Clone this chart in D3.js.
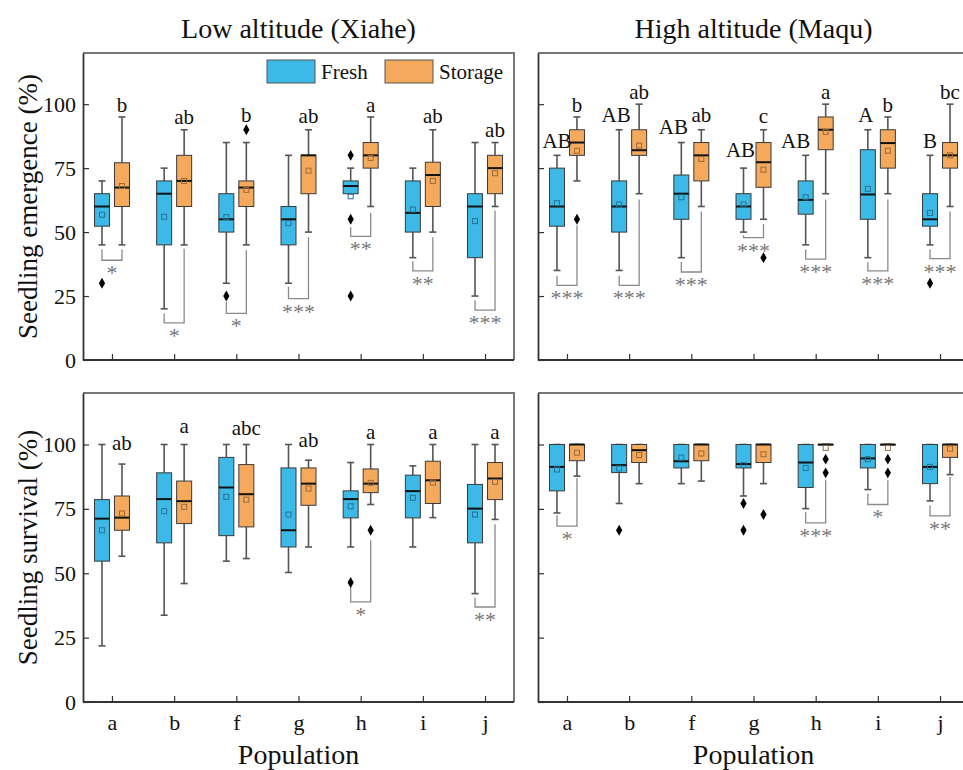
<!DOCTYPE html>
<html>
<head>
<meta charset="utf-8">
<script src="https://cdn.jsdelivr.net/npm/d3@7"></script>
<style>
  body { margin: 0; background: #fff; }
  text { font-family: "Liberation Serif", "Times New Roman", serif; }
</style>
</head>
<body>
<svg id="chart" width="963" height="770"></svg>
<script>
// populations and axis ticks
const populations = ["a", "b", "f", "g", "h", "i", "j"];
const yTicks = [0, 25, 50, 75, 100];

// box stats per population: [low whisker, q1, median, q3, high whisker, mean]
// emergence, low altitude (Xiahe)
const emLowFresh = [[45, 52.3, 60, 65, 70, 56.8], [20, 45, 65, 70, 75, 56], [30, 50, 55, 65, 85, 55.8],
  [30, 45, 55, 60, 80, 53.5], [65, 65, 68, 70, 75, 64], [40, 50, 57.5, 70, 75, 58.8], [25, 40, 60, 65, 85, 54.3]];
const emLowFreshOut = [[30], [], [25], [], [80, 55, 25], [], []];
const emLowStor = [[45, 60, 67.4, 77.1, 95, 68], [45, 60, 70, 80, 90, 70], [45, 60, 67.4, 70, 85, 66.5],
  [50, 65, 80, 80, 90, 74], [60, 75, 80, 85, 95, 79], [50, 60, 72.3, 77.3, 90, 70], [60, 65, 75, 80, 85, 73]];
const emLowStorOut = [[], [], [90], [], [], [], []];
const emLowStorLetters = ["b", "ab", "b", "ab", "a", "ab", "ab"];
const emLowStorLetterY = [96.8, 92.2, 92.9, 92.5, 96.8, 92.5, 87.3];
const emLowSig = ["*", "*", "*", "***", "**", "**", "***"];
// bracket: [fresh side top, storage side top, bottom]
const emLowBracket = [[43.2, 43.2, 39], [18.2, 43.5, 14.5], [22.7, 42.9, 18.2], [28.6, 48, 24],
  [51.9, 57.5, 48.3], [38.6, 48, 34.8], [23.4, 58.4, 19.5]];

// emergence, high altitude (Maqu)
const emHighFresh = [[35, 52.3, 60, 75, 80, 61.3], [35, 50, 60, 70, 90, 60.8], [40, 55, 65, 72.3, 85, 63.6],
  [50, 55, 60, 65, 75, 60.8], [45, 57, 62.6, 70, 80, 63.6], [40, 55, 64.7, 82.2, 90, 66.9], [45, 52.3, 55, 65, 80, 57.5]];
const emHighFreshOut = [[], [], [], [], [], [], [30]];
const emHighStor = [[70, 80, 85, 90, 95, 81.8], [65, 80, 82, 90, 100, 83.8], [60, 70, 80, 85, 90, 78.6],
  [55, 67.5, 77.3, 85, 90, 74.4], [65, 82.2, 90, 95, 100, 89.2], [65, 75, 84.8, 90, 95, 81.8], [60, 75, 80, 85, 100, 80]];
const emHighStorOut = [[55], [], [], [40], [], [], []];
const emHighFreshLetters = ["AB", "AB", "AB", "AB", "AB", "A", "B"];
const emHighFreshLetterY = [82.9, 92.9, 88.3, 79.5, 82.9, 92.9, 82.9];
const emHighFreshLetterDx = [0, -3, -8, -3, -10, -2, 0];
const emHighStorLetters = ["b", "ab", "ab", "c", "a", "b", "bc"];
const emHighStorLetterY = [96.8, 102, 92.9, 92.5, 102, 97.1, 102];
const emHighSig = ["***", "***", "***", "***", "***", "***", "***"];
const emHighBracket = [[32.9, 52.6, 29.2], [32.9, 62.7, 29.2], [38.3, 58, 34.4], [48.8, 53.2, 47.8],
  [43.2, 62.7, 39.4], [38.3, 62.7, 34.8], [43.2, 58, 39.6]];

// survival, low altitude (Xiahe)
const svLowFresh = [[21.8, 54.7, 71.2, 78.6, 100, 66.7], [33.7, 61.8, 78.8, 89, 100, 74.1], [54.7, 64.6, 83.3, 95, 100, 79.7],
  [50.3, 60.2, 66.7, 90.9, 100, 72.8], [60.2, 71.5, 78.8, 82, 93, 76], [60.2, 71.5, 81.9, 88.1, 91.7, 79.3],
  [42.1, 61.8, 75.1, 84.5, 100, 72.8]];
const svLowFreshOut = [[], [], [], [], [46.4], [], []];
const svLowStor = [[56.6, 66.7, 71.6, 80, 92.4, 73.2], [46, 69.3, 78, 85.8, 100, 75.8], [55.7, 68, 80.7, 92.2, 100, 78.6],
  [60.2, 76.4, 84.8, 90.9, 93.9, 82.9], [76.7, 81.3, 84.8, 90.5, 100, 85.1], [71.6, 77.1, 86.1, 93.5, 100, 85.2],
  [70.9, 78.6, 86.8, 93, 100, 85.5]];
const svLowStorOut = [[], [], [], [], [66.7], [], []];
const svLowStorLetters = ["ab", "a", "abc", "ab", "a", "a", "a"];
const svLowStorLetterY = [97.8, 104.3, 103.6, 99.1, 102.3, 102.3, 102.3];
const svLowSig = [null, null, null, null, "*", null, "**"];
const svLowBracket = [null, null, null, null, [44.7, 62.8, 38.9], null, [40.5, 69, 36.9]];

// survival, high altitude (Maqu)
const svHighFresh = [[73.4, 82, 91.3, 100, 100, 90.3], [77.1, 89.1, 92, 100, 100, 90.7], [84.8, 90.9, 93.5, 100, 100, 94.9],
  [80, 90.9, 92.4, 100, 100, 92], [75.1, 83.3, 93, 100, 100, 90.9], [82.5, 90.9, 94.6, 100, 100, 94.3],
  [78.1, 84.8, 91.3, 100, 100, 91.3]];
const svHighFreshOut = [[], [66.7], [], [77.1, 66.7], [], [], []];
const svHighStor = [[87.7, 93.7, 100, 100, 100, 96.8], [84.8, 93, 97.8, 100, 100, 95.9], [85.8, 93.7, 100, 100, 100, 96.5],
  [84.8, 93, 100, 100, 100, 96.2], [100, 100, 100, 100, 100, 98.7], [100, 100, 100, 100, 100, 98.7],
  [88.3, 95, 100, 100, 100, 98.4]];
const svHighStorOut = [[], [], [], [72.8], [94.3, 89], [94.3, 89], []];
const svHighSig = ["*", null, null, null, "***", "*", "**"];
const svHighBracket = [[72.5, 87, 68.3], null, null, null, [73.8, 86.1, 69.6], [81, 86.1, 76.7], [76.3, 87.4, 72.3]];

const freshColor = "#3cb9e6";
const storColor = "#f4a95c";

const cols = [
  { x0: 83, x1: 514, title: "Low altitude (Xiahe)" },
  { x0: 538, x1: 969, title: "High altitude (Maqu)" }
];
const rows = [
  { y0: 53, y1: 360, label: "Seedling emergence (%)" },
  { y0: 393, y1: 702, label: "Seedling survival (%)" }
];

const panels = [
  { col: 0, row: 0, fresh: emLowFresh, freshOut: emLowFreshOut, stor: emLowStor, storOut: emLowStorOut,
    storLetters: emLowStorLetters, storLetterY: emLowStorLetterY, sig: emLowSig, bracket: emLowBracket },
  { col: 1, row: 0, fresh: emHighFresh, freshOut: emHighFreshOut, stor: emHighStor, storOut: emHighStorOut,
    freshLetters: emHighFreshLetters, freshLetterY: emHighFreshLetterY, freshLetterDx: emHighFreshLetterDx,
    storLetters: emHighStorLetters, storLetterY: emHighStorLetterY, sig: emHighSig, bracket: emHighBracket },
  { col: 0, row: 1, fresh: svLowFresh, freshOut: svLowFreshOut, stor: svLowStor, storOut: svLowStorOut,
    storLetters: svLowStorLetters, storLetterY: svLowStorLetterY, sig: svLowSig, bracket: svLowBracket },
  { col: 1, row: 1, fresh: svHighFresh, freshOut: svHighFreshOut, stor: svHighStor, storOut: svHighStorOut,
    sig: svHighSig, bracket: svHighBracket }
];

const svg = d3.select("#chart");
const boxW = 15, boxOff = 10, capW = 7;

// column titles and x labels
cols.forEach(c => {
  svg.append("text")
    .attr("x", (c.x0 + c.x1) / 2).attr("y", 38)
    .attr("text-anchor", "middle")
    .style("font-size", "28px").style("fill", "#111")
    .text(c.title);
  svg.append("text")
    .attr("x", (c.x0 + c.x1) / 2).attr("y", 764)
    .attr("text-anchor", "middle")
    .style("font-size", "28px").style("fill", "#111")
    .text("Population");
});

// row labels
rows.forEach(r => {
  svg.append("text")
    .attr("transform", `translate(37,${(r.y0 + r.y1) / 2}) rotate(-90)`)
    .attr("text-anchor", "middle")
    .style("font-size", "27px").style("fill", "#111")
    .text(r.label);
});

function drawBox(g, cx, s, outs, y, color) {
  const [lo, q1, med, q3, hi, mean] = s;
  const wh = g.append("g").attr("stroke", "#555").attr("stroke-width", 1.6);
  wh.append("line").attr("x1", cx).attr("x2", cx).attr("y1", y(lo)).attr("y2", y(q1));
  wh.append("line").attr("x1", cx).attr("x2", cx).attr("y1", y(q3)).attr("y2", y(hi));
  wh.append("line").attr("x1", cx - capW / 2).attr("x2", cx + capW / 2).attr("y1", y(lo)).attr("y2", y(lo));
  wh.append("line").attr("x1", cx - capW / 2).attr("x2", cx + capW / 2).attr("y1", y(hi)).attr("y2", y(hi));

  g.append("rect")
    .attr("x", cx - boxW / 2).attr("y", y(q3))
    .attr("width", boxW).attr("height", Math.max(y(q1) - y(q3), 0.5))
    .attr("fill", color).attr("stroke", "#3a3a3a").attr("stroke-width", 1);

  g.append("line")
    .attr("x1", cx - boxW / 2).attr("x2", cx + boxW / 2)
    .attr("y1", y(med)).attr("y2", y(med))
    .attr("stroke", "#111").attr("stroke-width", 2);

  g.append("rect")
    .attr("x", cx - 2.5).attr("y", y(mean) - 2.5)
    .attr("width", 5).attr("height", 5)
    .attr("fill", "none")
    .attr("stroke", d3.color(color).darker(1.3))
    .attr("stroke-width", 1);

  g.selectAll(null).data(outs).join("path")
    .attr("transform", d => `translate(${cx},${y(d)})`)
    .attr("d", d3.symbol(d3.symbolDiamond, 34))
    .attr("fill", "#000");
}

function drawPanel(p) {
  const c = cols[p.col], r = rows[p.row];
  const x = d3.scalePoint().domain(populations).range([c.x0, c.x1]).padding(0.466);
  const y = d3.scaleLinear().domain([0, 120]).range([r.y1, r.y0]);
  const g = svg.append("g");

  // frame top and right
  g.append("path")
    .attr("d", `M${c.x0},${r.y0}H${c.x1}V${r.y1}`)
    .attr("fill", "none").attr("stroke", "#777").attr("stroke-width", 2);

  const yAxis = d3.axisLeft(y).tickValues(yTicks).tickSizeInner(-6).tickSizeOuter(0).tickPadding(7);
  if (p.col === 1) yAxis.tickFormat(() => "");
  const ya = g.append("g").attr("transform", `translate(${c.x0},0)`).call(yAxis);
  ya.select(".domain").attr("stroke", "#333").attr("stroke-width", 1.8);
  ya.selectAll(".tick line").attr("stroke", "#333").attr("stroke-width", 1.2);
  ya.selectAll(".tick text").style("font-size", "22px").style("font-family", "Liberation Serif").attr("fill", "#111");

  const xAxis = d3.axisBottom(x).tickSizeInner(-6).tickSizeOuter(0).tickPadding(12);
  if (p.row === 0) xAxis.tickFormat(() => "");
  const xa = g.append("g").attr("transform", `translate(0,${r.y1})`).call(xAxis);
  xa.select(".domain").attr("stroke", "#333").attr("stroke-width", 1.8)
    .attr("d", `M${c.x0},0H${c.x1}`);
  xa.selectAll(".tick line").attr("stroke", "#333").attr("stroke-width", 1.2);
  xa.selectAll(".tick text").style("font-size", "22px").style("font-family", "Liberation Serif").attr("fill", "#111");

  populations.forEach((pop, i) => {
    const xf = x(pop) - boxOff, xs = x(pop) + boxOff;

    // significance bracket
    if (p.bracket && p.bracket[i]) {
      const [lt, rt, b] = p.bracket[i];
      g.append("path")
        .attr("d", `M${xf},${y(lt)}V${y(b)}H${xs}V${y(rt)}`)
        .attr("fill", "none").attr("stroke", "#8a8a8a").attr("stroke-width", 1.3);
      g.append("text")
        .attr("x", (xf + xs) / 2).attr("y", y(b) + 20)
        .attr("text-anchor", "middle")
        .style("font-size", "22px").style("fill", "#777")
        .text(p.sig[i]);
    }

    drawBox(g, xf, p.fresh[i], p.freshOut[i], y, freshColor);
    drawBox(g, xs, p.stor[i], p.storOut[i], y, storColor);

    if (p.freshLetters) {
      const dx = p.freshLetterDx ? p.freshLetterDx[i] : 0;
      g.append("text").attr("x", xf + dx).attr("y", y(p.freshLetterY[i]))
        .attr("text-anchor", "middle").style("font-size", "21px").style("fill", "#111")
        .text(p.freshLetters[i]);
    }
    if (p.storLetters) {
      g.append("text").attr("x", xs).attr("y", y(p.storLetterY[i]))
        .attr("text-anchor", "middle").style("font-size", "21px").style("fill", "#111")
        .text(p.storLetters[i]);
    }
  });
}

panels.forEach(drawPanel);

// legend
const legend = svg.append("g");
[["Fresh", freshColor, 267], ["Storage", storColor, 385]].forEach(([name, color, lx]) => {
  legend.append("rect").attr("x", lx).attr("y", 60).attr("width", 48).attr("height", 23)
    .attr("fill", color).attr("stroke", "#555").attr("stroke-width", 1);
  legend.append("text").attr("x", lx + 54).attr("y", 79)
    .style("font-size", "21px").style("fill", "#111").text(name);
});
</script>
</body>
</html>
